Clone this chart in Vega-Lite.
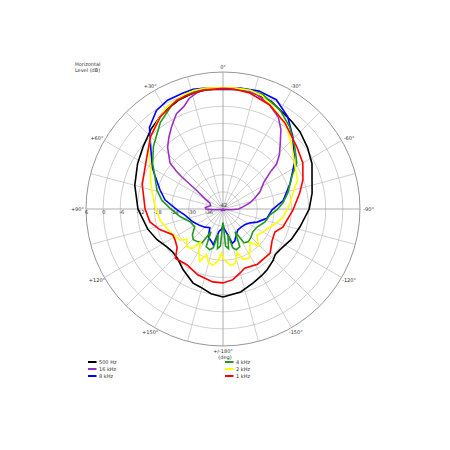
{
  "$schema": "https://vega.github.io/schema/vega-lite/v6.json",
  "width": 450,
  "height": 450,
  "padding": 0,
  "autosize": {"type": "none"},
  "background": "white",
  "config": {"view": {"stroke": null}, "font": "DejaVu Sans", "text": {"fill": "#333333"}},
  "datasets": {
    "rings": [{"u": 48}, {"u": 42}, {"u": 36}, {"u": 30}, {"u": 24}, {"u": 18}, {"u": 12}, {"u": 6}],
    "spokes": [{"a": 0}, {"a": 15}, {"a": 30}, {"a": 45}, {"a": 60}, {"a": 75}, {"a": 90}, {"a": 105}, {"a": 120}, {"a": 135}, {"a": 150}, {"a": 165}, {"a": 180}, {"a": 195}, {"a": 210}, {"a": 225}, {"a": 240}, {"a": 255}, {"a": 270}, {"a": 285}, {"a": 300}, {"a": 315}, {"a": 330}, {"a": 345}],
    "anglelabels": [
      {"a": 0, "t": "0°"}, {"a": 30, "t": "+30°"}, {"a": 60, "t": "+60°"}, {"a": 90, "t": "+90°"},
      {"a": 120, "t": "+120°"}, {"a": 150, "t": "+150°"}, {"a": 180, "t": "+/-180°"},
      {"a": -150, "t": "-150°"}, {"a": -120, "t": "-120°"}, {"a": -90, "t": "-90°"},
      {"a": -60, "t": "-60°"}, {"a": -30, "t": "-30°"}
    ],
    "dblabels": [
      {"L": 6, "t": "6"}, {"L": 0, "t": "0"}, {"L": -6, "t": "-6"}, {"L": -12, "t": "-12"},
      {"L": -18, "t": "-18"}, {"L": -24, "t": "-24"}, {"L": -30, "t": "-30"}, {"L": -36, "t": "-36"}
    ],
    "notes": [{"k": "center", "t": "-42"}],
    "curves": [
      {"s": "500 Hz", "a": -180, "L": -11.2}, {"s": "500 Hz", "a": -168, "L": -12.3}, {"s": "500 Hz", "a": -158, "L": -14}, {"s": "500 Hz", "a": -150, "L": -15}, {"s": "500 Hz", "a": -144, "L": -15.7}, {"s": "500 Hz", "a": -136, "L": -16.8}, {"s": "500 Hz", "a": -131, "L": -17.7}, {"s": "500 Hz", "a": -126, "L": -17.5}, {"s": "500 Hz", "a": -122, "L": -17.1}, {"s": "500 Hz", "a": -114, "L": -15.8}, {"s": "500 Hz", "a": -103, "L": -14.3}, {"s": "500 Hz", "a": -90, "L": -11.8}, {"s": "500 Hz", "a": -80, "L": -10.3}, {"s": "500 Hz", "a": -72, "L": -9.2}, {"s": "500 Hz", "a": -63, "L": -7}, {"s": "500 Hz", "a": -54, "L": -5.4}, {"s": "500 Hz", "a": -45, "L": -3.8}, {"s": "500 Hz", "a": -38, "L": -3}, {"s": "500 Hz", "a": -32, "L": -2.3}, {"s": "500 Hz", "a": -24, "L": -0.6}, {"s": "500 Hz", "a": -15, "L": 0}, {"s": "500 Hz", "a": -8, "L": 0.2}, {"s": "500 Hz", "a": 0, "L": 0}, {"s": "500 Hz", "a": 8, "L": 0.2}, {"s": "500 Hz", "a": 15, "L": -0.1}, {"s": "500 Hz", "a": 22, "L": -0.8}, {"s": "500 Hz", "a": 32, "L": -2.3}, {"s": "500 Hz", "a": 42, "L": -4.3}, {"s": "500 Hz", "a": 52, "L": -6.5}, {"s": "500 Hz", "a": 62, "L": -8.1}, {"s": "500 Hz", "a": 75, "L": -10}, {"s": "500 Hz", "a": 90, "L": -12.2}, {"s": "500 Hz", "a": 105, "L": -14.7}, {"s": "500 Hz", "a": 115, "L": -16.5}, {"s": "500 Hz", "a": 124, "L": -18.3}, {"s": "500 Hz", "a": 130, "L": -18.8}, {"s": "500 Hz", "a": 137, "L": -18.5}, {"s": "500 Hz", "a": 147, "L": -16.5}, {"s": "500 Hz", "a": 158, "L": -14}, {"s": "500 Hz", "a": 164, "L": -13.5}, {"s": "500 Hz", "a": 172, "L": -12}, {"s": "500 Hz", "a": 180, "L": -11.2},

      {"s": "16 kHz", "a": -180, "L": -42}, {"s": "16 kHz", "a": -160, "L": -41.3}, {"s": "16 kHz", "a": -140, "L": -41.8}, {"s": "16 kHz", "a": -125, "L": -41}, {"s": "16 kHz", "a": -110, "L": -41.5}, {"s": "16 kHz", "a": -100, "L": -41}, {"s": "16 kHz", "a": -95, "L": -39}, {"s": "16 kHz", "a": -90, "L": -36.5}, {"s": "16 kHz", "a": -84, "L": -35}, {"s": "16 kHz", "a": -77, "L": -32.3}, {"s": "16 kHz", "a": -71, "L": -30.2}, {"s": "16 kHz", "a": -65, "L": -27.7}, {"s": "16 kHz", "a": -57, "L": -25}, {"s": "16 kHz", "a": -52, "L": -21}, {"s": "16 kHz", "a": -50, "L": -17.5}, {"s": "16 kHz", "a": -46, "L": -14.5}, {"s": "16 kHz", "a": -41, "L": -11.4}, {"s": "16 kHz", "a": -36, "L": -7.5}, {"s": "16 kHz", "a": -31, "L": -4.4}, {"s": "16 kHz", "a": -24, "L": -2}, {"s": "16 kHz", "a": -16, "L": 0}, {"s": "16 kHz", "a": -8, "L": 0.3}, {"s": "16 kHz", "a": 0, "L": 0.2}, {"s": "16 kHz", "a": 7, "L": 0.3}, {"s": "16 kHz", "a": 12, "L": 0}, {"s": "16 kHz", "a": 17, "L": -1.5}, {"s": "16 kHz", "a": 21, "L": -3.6}, {"s": "16 kHz", "a": 26, "L": -4.8}, {"s": "16 kHz", "a": 32, "L": -8}, {"s": "16 kHz", "a": 37, "L": -10.5}, {"s": "16 kHz", "a": 42, "L": -13}, {"s": "16 kHz", "a": 49, "L": -17.4}, {"s": "16 kHz", "a": 51, "L": -21}, {"s": "16 kHz", "a": 52, "L": -23.5}, {"s": "16 kHz", "a": 53, "L": -27}, {"s": "16 kHz", "a": 55, "L": -31}, {"s": "16 kHz", "a": 60, "L": -34.5}, {"s": "16 kHz", "a": 66, "L": -37}, {"s": "16 kHz", "a": 75, "L": -37.5}, {"s": "16 kHz", "a": 85, "L": -35.8}, {"s": "16 kHz", "a": 90, "L": -36}, {"s": "16 kHz", "a": 95, "L": -39}, {"s": "16 kHz", "a": 100, "L": -41}, {"s": "16 kHz", "a": 110, "L": -41.5}, {"s": "16 kHz", "a": 125, "L": -41}, {"s": "16 kHz", "a": 140, "L": -41.8}, {"s": "16 kHz", "a": 160, "L": -41.2}, {"s": "16 kHz", "a": 180, "L": -42},

      {"s": "8 kHz", "a": -180, "L": -36}, {"s": "8 kHz", "a": -176, "L": -35}, {"s": "8 kHz", "a": -170, "L": -33}, {"s": "8 kHz", "a": -165, "L": -29.5}, {"s": "8 kHz", "a": -160, "L": -30}, {"s": "8 kHz", "a": -152, "L": -32}, {"s": "8 kHz", "a": -145, "L": -33}, {"s": "8 kHz", "a": -135, "L": -33}, {"s": "8 kHz", "a": -125, "L": -32.5}, {"s": "8 kHz", "a": -117, "L": -31.3}, {"s": "8 kHz", "a": -111, "L": -29.2}, {"s": "8 kHz", "a": -102, "L": -26.3}, {"s": "8 kHz", "a": -91, "L": -24.8}, {"s": "8 kHz", "a": -82, "L": -20.7}, {"s": "8 kHz", "a": -69, "L": -16.8}, {"s": "8 kHz", "a": -57, "L": -12.1}, {"s": "8 kHz", "a": -44, "L": -6.8}, {"s": "8 kHz", "a": -35, "L": -2.5}, {"s": "8 kHz", "a": -26, "L": 0.6}, {"s": "8 kHz", "a": -17, "L": 1.2}, {"s": "8 kHz", "a": -8, "L": 0.8}, {"s": "8 kHz", "a": 0, "L": 0.3}, {"s": "8 kHz", "a": 8, "L": 0.8}, {"s": "8 kHz", "a": 14, "L": 1.2}, {"s": "8 kHz", "a": 19, "L": 1}, {"s": "8 kHz", "a": 27, "L": 0.8}, {"s": "8 kHz", "a": 34, "L": -0.3}, {"s": "8 kHz", "a": 42, "L": -3.5}, {"s": "8 kHz", "a": 48, "L": -7.8}, {"s": "8 kHz", "a": 54, "L": -11}, {"s": "8 kHz", "a": 60, "L": -13.5}, {"s": "8 kHz", "a": 64, "L": -15.5}, {"s": "8 kHz", "a": 73, "L": -18.9}, {"s": "8 kHz", "a": 81, "L": -21.4}, {"s": "8 kHz", "a": 91, "L": -25.9}, {"s": "8 kHz", "a": 99, "L": -28.5}, {"s": "8 kHz", "a": 113, "L": -30.5}, {"s": "8 kHz", "a": 125, "L": -32}, {"s": "8 kHz", "a": 135, "L": -33}, {"s": "8 kHz", "a": 145, "L": -34}, {"s": "8 kHz", "a": 152, "L": -31}, {"s": "8 kHz", "a": 160, "L": -30}, {"s": "8 kHz", "a": 165, "L": -29}, {"s": "8 kHz", "a": 170, "L": -34}, {"s": "8 kHz", "a": 176, "L": -35}, {"s": "8 kHz", "a": 180, "L": -36},

      {"s": "4 kHz", "a": -180, "L": -37}, {"s": "4 kHz", "a": -179, "L": -37}, {"s": "4 kHz", "a": -176, "L": -29}, {"s": "4 kHz", "a": -172, "L": -28}, {"s": "4 kHz", "a": -169, "L": -33}, {"s": "4 kHz", "a": -166, "L": -28}, {"s": "4 kHz", "a": -162, "L": -27}, {"s": "4 kHz", "a": -156, "L": -27.5}, {"s": "4 kHz", "a": -152, "L": -33}, {"s": "4 kHz", "a": -148, "L": -28}, {"s": "4 kHz", "a": -142, "L": -27.5}, {"s": "4 kHz", "a": -136, "L": -28}, {"s": "4 kHz", "a": -128, "L": -28.8}, {"s": "4 kHz", "a": -118, "L": -28.5}, {"s": "4 kHz", "a": -107, "L": -26.6}, {"s": "4 kHz", "a": -97, "L": -25.4}, {"s": "4 kHz", "a": -91, "L": -23.1}, {"s": "4 kHz", "a": -84, "L": -20.9}, {"s": "4 kHz", "a": -76, "L": -18.6}, {"s": "4 kHz", "a": -64, "L": -15}, {"s": "4 kHz", "a": -58, "L": -11.5}, {"s": "4 kHz", "a": -49, "L": -8.7}, {"s": "4 kHz", "a": -39, "L": -4.9}, {"s": "4 kHz", "a": -30, "L": -2}, {"s": "4 kHz", "a": -19, "L": 0.5}, {"s": "4 kHz", "a": -10, "L": 0.8}, {"s": "4 kHz", "a": 0, "L": 0.5}, {"s": "4 kHz", "a": 8, "L": 0.8}, {"s": "4 kHz", "a": 16, "L": 0.3}, {"s": "4 kHz", "a": 25, "L": -0.9}, {"s": "4 kHz", "a": 36, "L": -4.6}, {"s": "4 kHz", "a": 48, "L": -9.2}, {"s": "4 kHz", "a": 57, "L": -12.6}, {"s": "4 kHz", "a": 65, "L": -15.7}, {"s": "4 kHz", "a": 74, "L": -17.9}, {"s": "4 kHz", "a": 82, "L": -20.4}, {"s": "4 kHz", "a": 89, "L": -23.4}, {"s": "4 kHz", "a": 100, "L": -26.7}, {"s": "4 kHz", "a": 111, "L": -29.6}, {"s": "4 kHz", "a": 122, "L": -30.3}, {"s": "4 kHz", "a": 130, "L": -28}, {"s": "4 kHz", "a": 136, "L": -27}, {"s": "4 kHz", "a": 142, "L": -27.5}, {"s": "4 kHz", "a": 148, "L": -28}, {"s": "4 kHz", "a": 152, "L": -33}, {"s": "4 kHz", "a": 156, "L": -27.5}, {"s": "4 kHz", "a": 162, "L": -27}, {"s": "4 kHz", "a": 166, "L": -28}, {"s": "4 kHz", "a": 169, "L": -33}, {"s": "4 kHz", "a": 172, "L": -28}, {"s": "4 kHz", "a": 176, "L": -29}, {"s": "4 kHz", "a": 179, "L": -37}, {"s": "4 kHz", "a": 180, "L": -37},

      {"s": "2 kHz", "a": -180, "L": -25}, {"s": "2 kHz", "a": -178, "L": -24}, {"s": "2 kHz", "a": -172, "L": -22}, {"s": "2 kHz", "a": -167, "L": -22.5}, {"s": "2 kHz", "a": -162, "L": -26}, {"s": "2 kHz", "a": -158, "L": -23}, {"s": "2 kHz", "a": -152, "L": -22.5}, {"s": "2 kHz", "a": -146, "L": -25}, {"s": "2 kHz", "a": -141, "L": -27}, {"s": "2 kHz", "a": -136, "L": -24}, {"s": "2 kHz", "a": -128, "L": -27}, {"s": "2 kHz", "a": -120, "L": -25.8}, {"s": "2 kHz", "a": -111, "L": -24.4}, {"s": "2 kHz", "a": -104, "L": -22.4}, {"s": "2 kHz", "a": -98, "L": -20.8}, {"s": "2 kHz", "a": -85, "L": -18.4}, {"s": "2 kHz", "a": -77, "L": -16.8}, {"s": "2 kHz", "a": -69, "L": -14.1}, {"s": "2 kHz", "a": -57, "L": -12.1}, {"s": "2 kHz", "a": -48, "L": -9.5}, {"s": "2 kHz", "a": -38, "L": -5.6}, {"s": "2 kHz", "a": -26, "L": -2.2}, {"s": "2 kHz", "a": -19, "L": 0}, {"s": "2 kHz", "a": -13, "L": 0.7}, {"s": "2 kHz", "a": -6, "L": 0.6}, {"s": "2 kHz", "a": 0, "L": 0.5}, {"s": "2 kHz", "a": 8, "L": 0.8}, {"s": "2 kHz", "a": 14, "L": 0.8}, {"s": "2 kHz", "a": 19, "L": 0.3}, {"s": "2 kHz", "a": 29, "L": -1.2}, {"s": "2 kHz", "a": 37, "L": -3.7}, {"s": "2 kHz", "a": 45, "L": -6.1}, {"s": "2 kHz", "a": 51, "L": -8.5}, {"s": "2 kHz", "a": 56, "L": -11}, {"s": "2 kHz", "a": 61, "L": -13}, {"s": "2 kHz", "a": 66, "L": -14.1}, {"s": "2 kHz", "a": 77, "L": -16.5}, {"s": "2 kHz", "a": 88, "L": -18.2}, {"s": "2 kHz", "a": 100, "L": -19.6}, {"s": "2 kHz", "a": 113, "L": -21.7}, {"s": "2 kHz", "a": 121, "L": -22.8}, {"s": "2 kHz", "a": 126, "L": -23.4}, {"s": "2 kHz", "a": 130, "L": -25.5}, {"s": "2 kHz", "a": 136, "L": -23.5}, {"s": "2 kHz", "a": 142, "L": -24.5}, {"s": "2 kHz", "a": 146, "L": -28}, {"s": "2 kHz", "a": 150, "L": -25}, {"s": "2 kHz", "a": 156, "L": -22}, {"s": "2 kHz", "a": 160, "L": -25}, {"s": "2 kHz", "a": 165, "L": -22.5}, {"s": "2 kHz", "a": 170, "L": -22}, {"s": "2 kHz", "a": 175, "L": -24}, {"s": "2 kHz", "a": 178, "L": -26.5}, {"s": "2 kHz", "a": 180, "L": -25},

      {"s": "1 kHz", "a": -180, "L": -16.1}, {"s": "1 kHz", "a": -172, "L": -17}, {"s": "1 kHz", "a": -165, "L": -18.8}, {"s": "1 kHz", "a": -160, "L": -19.9}, {"s": "1 kHz", "a": -148, "L": -19.2}, {"s": "1 kHz", "a": -133, "L": -19.4}, {"s": "1 kHz", "a": -123, "L": -21.5}, {"s": "1 kHz", "a": -114, "L": -22.1}, {"s": "1 kHz", "a": -107, "L": -20.1}, {"s": "1 kHz", "a": -91, "L": -17.5}, {"s": "1 kHz", "a": -78, "L": -14.5}, {"s": "1 kHz", "a": -70, "L": -12.2}, {"s": "1 kHz", "a": -60, "L": -9.7}, {"s": "1 kHz", "a": -50, "L": -8.2}, {"s": "1 kHz", "a": -36, "L": -4.9}, {"s": "1 kHz", "a": -24, "L": -2}, {"s": "1 kHz", "a": -13, "L": -0.3}, {"s": "1 kHz", "a": -5, "L": 0.2}, {"s": "1 kHz", "a": 0, "L": 0.3}, {"s": "1 kHz", "a": 10, "L": 0.2}, {"s": "1 kHz", "a": 18, "L": -0.3}, {"s": "1 kHz", "a": 23, "L": -0.6}, {"s": "1 kHz", "a": 34, "L": -2.9}, {"s": "1 kHz", "a": 45, "L": -6.1}, {"s": "1 kHz", "a": 57, "L": -10}, {"s": "1 kHz", "a": 73, "L": -12.4}, {"s": "1 kHz", "a": 90, "L": -14.7}, {"s": "1 kHz", "a": 100, "L": -16}, {"s": "1 kHz", "a": 108, "L": -18.7}, {"s": "1 kHz", "a": 117, "L": -22.2}, {"s": "1 kHz", "a": 123, "L": -22}, {"s": "1 kHz", "a": 130, "L": -21}, {"s": "1 kHz", "a": 136, "L": -18}, {"s": "1 kHz", "a": 147, "L": -18.7}, {"s": "1 kHz", "a": 159, "L": -17.3}, {"s": "1 kHz", "a": 172, "L": -16.2}, {"s": "1 kHz", "a": 180, "L": -16.1}
    ]
  },
  "layer": [
    {
      "data": {"name": "rings"},
      "transform": [{"calculate": "0", "as": "c"}],
      "mark": {"type": "point", "shape": "circle", "filled": false, "opacity": 1, "strokeWidth": 0.8},
      "encoding": {
        "x": {"field": "c", "type": "quantitative", "scale": {"domain": [-78.14, 79.54], "nice": false, "zero": false}, "axis": null},
        "y": {"field": "c", "type": "quantitative", "scale": {"domain": [-84.45, 73.24], "nice": false, "zero": false}, "axis": null},
        "size": {"field": "u", "type": "quantitative", "scale": {"type": "pow", "exponent": 2, "domain": [0, 48], "range": [0, 75066]}, "legend": null},
        "stroke": {"condition": {"test": "datum.u == 48", "value": "#7a7a7a"}, "value": "#c4c4c4"}
      }
    },
    {
      "data": {"name": "spokes"},
      "transform": [
        {"calculate": "-48 * sin(datum.a * PI / 180)", "as": "sx"},
        {"calculate": "48 * cos(datum.a * PI / 180)", "as": "sy"},
        {"calculate": "0", "as": "c"}
      ],
      "mark": {"type": "rule", "strokeWidth": 0.8},
      "encoding": {
        "x": {"field": "sx", "type": "quantitative"},
        "y": {"field": "sy", "type": "quantitative"},
        "x2": {"field": "c"},
        "y2": {"field": "c"},
        "stroke": {"condition": {"test": "datum.a % 90 == 0", "value": "#9a9a9a"}, "value": "#c4c4c4"}
      }
    },
    {
      "data": {"name": "dblabels"},
      "transform": [{"calculate": "-(datum.L + 42)", "as": "lx"}, {"calculate": "0", "as": "c"}],
      "mark": {"type": "text", "align": "left", "baseline": "middle", "dx": -1, "dy": 3, "fontSize": 5, "fill": "#333333"},
      "encoding": {
        "x": {"field": "lx", "type": "quantitative"},
        "y": {"field": "c", "type": "quantitative"},
        "text": {"field": "t", "type": "nominal"}
      }
    },
    {
      "data": {"name": "notes"},
      "transform": [{"calculate": "0", "as": "c"}],
      "mark": {"type": "text", "align": "center", "baseline": "middle", "dy": -4, "fontSize": 5, "fill": "#333333"},
      "encoding": {
        "x": {"field": "c", "type": "quantitative"},
        "y": {"field": "c", "type": "quantitative"},
        "text": {"field": "t", "type": "nominal"}
      }
    },
    {
      "data": {"name": "anglelabels"},
      "transform": [
        {"calculate": "-51 * sin(datum.a * PI / 180)", "as": "tx"},
        {"calculate": "49.6 * cos(datum.a * PI / 180)", "as": "ty"}
      ],
      "mark": {"type": "text", "align": "center", "baseline": "middle", "fontSize": 5, "fill": "#333333"},
      "encoding": {
        "x": {"field": "tx", "type": "quantitative"},
        "y": {"field": "ty", "type": "quantitative"},
        "text": {"field": "t", "type": "nominal"}
      }
    },
    {
      "data": {"name": "notes"},
      "transform": [{"calculate": "0", "as": "c"}, {"calculate": "-49.6", "as": "b"}],
      "mark": {"type": "text", "align": "center", "baseline": "middle", "dy": 6, "dx": 2, "fontSize": 5, "fill": "#333333", "text": "(deg)"},
      "encoding": {
        "x": {"field": "c", "type": "quantitative"},
        "y": {"field": "b", "type": "quantitative"}
      }
    },
    {
      "data": {"name": "notes"},
      "transform": [{"calculate": "-51.9", "as": "hx"}, {"calculate": "51.5", "as": "hy"}],
      "mark": {"type": "text", "align": "left", "baseline": "top", "fontSize": 5, "lineHeight": 6, "fill": "#333333", "text": ["Horizontal", "Level (dB)"]},
      "encoding": {
        "x": {"field": "hx", "type": "quantitative"},
        "y": {"field": "hy", "type": "quantitative"}
      }
    },
    {
      "data": {"name": "curves"},
      "transform": [
        {"calculate": "-(datum.L + 42) * sin(datum.a * PI / 180)", "as": "cx"},
        {"calculate": "(datum.L + 42) * cos(datum.a * PI / 180)", "as": "cy"}
      ],
      "mark": {"type": "line", "strokeWidth": 1.6, "interpolate": "linear"},
      "encoding": {
        "x": {"field": "cx", "type": "quantitative"},
        "y": {"field": "cy", "type": "quantitative"},
        "order": {"field": "a", "type": "quantitative"},
        "color": {
          "field": "s",
          "type": "nominal",
          "scale": {
            "domain": ["500 Hz", "16 kHz", "8 kHz", "4 kHz", "2 kHz", "1 kHz"],
            "range": ["#000000", "#9b30c8", "#0000ff", "#1f9a1f", "#ffff00", "#ff0000"]
          },
          "legend": {
            "title": null,
            "orient": "none",
            "legendX": 88,
            "legendY": 358.5,
            "columns": 2,
            "columnPadding": 108,
            "rowPadding": 0,
            "clipHeight": 7,
            "symbolType": "M-2,0H2",
            "symbolSize": 25,
            "symbolStrokeWidth": 2,
            "labelFontSize": 5,
            "labelOffset": 4,
            "labelColor": "#333333",
            "padding": 0
          }
        }
      }
    }
  ]
}
